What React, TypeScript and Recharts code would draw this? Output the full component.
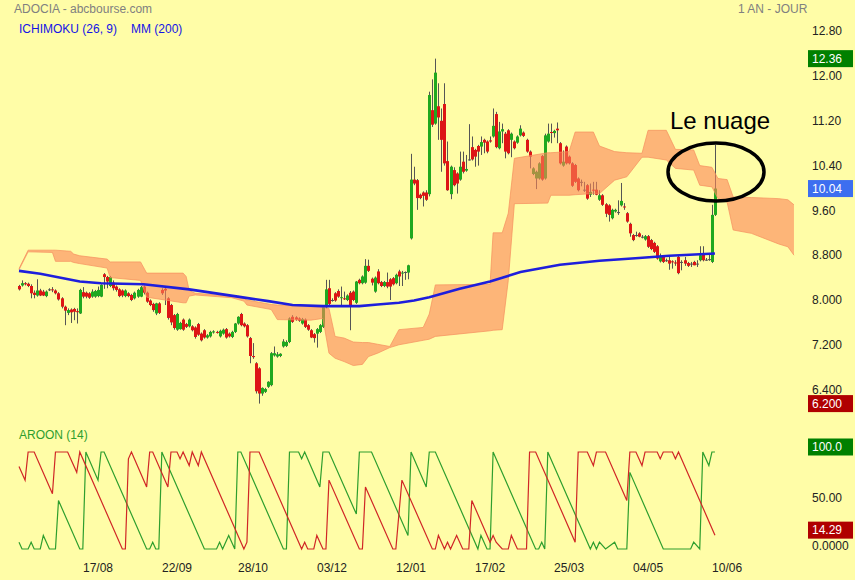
import React from 'react'
import { Area, Bar, ComposedChart, Line, XAxis, YAxis } from 'recharts'

const BG = '#FFFDA7'
const FONT = '"Liberation Sans", Arial, sans-serif'
const GREEN = '#1FA81F'
const RED = '#DD1515'
const WICK = '#555555'

// ADOCIA daily candles [open, high, low, close]
const candles: number[][] = [
  [8.30, 8.32, 8.22, 8.24], [8.31, 8.40, 8.29, 8.35], [8.35, 8.37, 8.31, 8.33], [8.34, 8.36, 8.28, 8.30], [8.30, 8.33, 8.08, 8.17],
  [8.18, 8.22, 8.08, 8.14], [8.13, 8.42, 8.11, 8.22], [8.22, 8.25, 8.12, 8.13], [8.20, 8.23, 8.12, 8.13], [8.12, 8.22, 8.10, 8.20],
  [8.24, 8.26, 8.21, 8.24], [8.24, 8.28, 8.19, 8.23], [8.22, 8.24, 8.15, 8.17], [8.17, 8.19, 8.04, 8.06], [8.08, 8.10, 7.90, 7.93],
  [7.93, 7.95, 7.60, 7.86], [7.82, 7.90, 7.78, 7.87], [7.88, 7.90, 7.64, 7.83], [7.89, 7.91, 7.69, 7.84], [7.85, 7.90, 7.63, 7.84],
  [7.81, 8.25, 7.80, 8.23], [8.19, 8.28, 8.08, 8.11], [8.18, 8.20, 8.08, 8.11], [8.17, 8.19, 8.07, 8.09], [8.11, 8.24, 8.09, 8.20],
  [8.11, 8.23, 8.09, 8.21], [8.12, 8.29, 8.10, 8.23], [8.11, 8.33, 8.10, 8.32], [8.51, 8.53, 8.25, 8.46], [8.46, 8.48, 8.26, 8.38],
  [8.30, 8.48, 8.28, 8.46], [8.36, 8.40, 8.22, 8.26], [8.29, 8.31, 8.20, 8.23], [8.24, 8.26, 8.10, 8.12], [8.22, 8.24, 8.10, 8.13],
  [8.12, 8.24, 8.10, 8.22], [8.17, 8.19, 8.10, 8.12], [8.14, 8.16, 8.03, 8.05], [8.08, 8.20, 8.06, 8.18], [8.11, 8.25, 8.09, 8.23],
  [8.11, 8.30, 8.10, 8.28], [8.29, 8.31, 8.15, 8.18], [8.18, 8.20, 8.00, 8.02], [8.04, 8.06, 7.94, 7.96], [7.98, 8.00, 7.84, 7.87],
  [7.81, 8.00, 7.78, 7.99], [7.99, 8.01, 7.80, 7.82], [8.23, 8.26, 8.14, 8.17], [8.25, 8.27, 7.96, 8.22], [8.08, 8.10, 7.70, 7.73],
  [7.96, 7.98, 7.60, 7.65], [7.78, 7.80, 7.52, 7.55], [7.52, 7.82, 7.50, 7.80], [7.53, 7.66, 7.52, 7.64], [7.70, 7.72, 7.50, 7.52],
  [7.62, 7.64, 7.55, 7.57], [7.58, 7.72, 7.56, 7.70], [7.58, 7.60, 7.49, 7.51], [7.56, 7.58, 7.36, 7.39], [7.62, 7.64, 7.41, 7.43],
  [7.45, 7.47, 7.31, 7.33], [7.51, 7.53, 7.36, 7.38], [7.38, 7.44, 7.36, 7.42], [7.40, 7.50, 7.38, 7.48], [7.47, 7.51, 7.45, 7.49],
  [7.48, 7.50, 7.45, 7.47], [7.40, 7.52, 7.38, 7.50], [7.45, 7.54, 7.43, 7.52], [7.53, 7.55, 7.36, 7.38], [7.45, 7.47, 7.38, 7.40],
  [7.39, 7.50, 7.37, 7.48], [7.48, 7.64, 7.46, 7.63], [7.63, 7.76, 7.61, 7.75], [7.80, 7.82, 7.58, 7.60], [7.63, 7.65, 7.56, 7.58],
  [7.60, 7.62, 7.38, 7.40], [7.37, 7.39, 6.92, 7.05], [7.05, 7.28, 7.00, 7.03], [6.92, 6.94, 6.38, 6.42], [6.83, 6.85, 6.20, 6.38],
  [6.38, 6.49, 6.34, 6.48], [6.41, 6.48, 6.39, 6.46], [6.50, 6.60, 6.48, 6.59], [6.53, 7.12, 6.51, 7.10], [7.06, 7.22, 7.04, 7.10],
  [7.04, 7.12, 7.02, 7.08], [7.05, 7.10, 7.03, 7.09], [7.22, 7.35, 7.20, 7.31], [7.23, 7.33, 7.21, 7.30], [7.30, 7.74, 7.28, 7.72],
  [7.75, 7.78, 7.64, 7.66], [7.74, 7.76, 7.68, 7.70], [7.72, 7.74, 7.66, 7.68], [7.63, 7.73, 7.61, 7.71], [7.70, 7.72, 7.55, 7.57],
  [7.60, 7.62, 7.50, 7.52], [7.51, 7.53, 7.37, 7.38], [7.44, 7.46, 7.29, 7.37], [7.45, 7.55, 7.20, 7.53], [7.48, 7.62, 7.46, 7.60],
  [7.57, 7.94, 7.55, 7.92], [7.92, 8.41, 7.90, 8.24], [8.26, 8.41, 7.96, 7.98], [8.05, 8.08, 8.02, 8.05], [8.17, 8.19, 8.02, 8.04],
  [8.21, 8.24, 8.09, 8.11], [8.09, 8.29, 7.96, 8.10], [8.08, 8.20, 8.05, 8.07], [8.05, 8.15, 8.03, 8.13], [8.18, 8.21, 7.51, 7.96],
  [8.20, 8.22, 8.03, 8.05], [8.00, 8.39, 7.98, 8.38], [8.41, 8.43, 8.33, 8.35], [8.35, 8.49, 8.33, 8.47], [8.36, 8.78, 8.34, 8.66],
  [8.66, 8.77, 8.55, 8.57], [8.43, 8.45, 8.31, 8.36], [8.20, 8.47, 8.18, 8.45], [8.56, 8.60, 8.33, 8.35], [8.37, 8.39, 8.28, 8.30],
  [8.30, 8.39, 8.28, 8.37], [8.37, 8.54, 8.26, 8.29], [8.42, 8.44, 8.05, 8.29], [8.44, 8.46, 8.31, 8.33], [8.35, 8.52, 8.33, 8.50],
  [8.56, 8.59, 8.30, 8.47], [8.53, 8.57, 8.30, 8.54], [8.55, 8.56, 8.41, 8.55], [8.54, 8.68, 8.42, 8.67], [9.15, 10.66, 9.13, 10.20],
  [10.20, 10.43, 10.10, 10.13], [10.19, 10.21, 9.66, 9.87], [9.93, 9.95, 9.85, 9.87], [9.97, 9.99, 9.72, 9.91], [9.97, 10.01, 9.82, 9.84],
  [9.94, 11.77, 9.90, 11.71], [11.44, 11.99, 11.14, 11.18], [11.20, 12.36, 11.18, 12.11], [11.51, 11.92, 10.91, 11.31], [11.25, 11.47, 10.34, 10.91],
  [11.55, 11.92, 10.45, 10.49], [10.53, 10.88, 10.00, 10.01], [9.94, 10.45, 9.85, 10.43], [10.37, 10.42, 10.08, 10.10], [10.31, 10.33, 9.95, 10.13],
  [10.20, 10.70, 10.18, 10.43], [10.52, 10.70, 10.31, 10.34], [10.36, 10.64, 10.34, 10.39], [10.56, 11.19, 10.54, 10.56], [10.78, 10.97, 10.54, 10.56],
  [10.73, 10.75, 10.43, 10.61], [10.80, 10.82, 10.45, 10.70], [10.79, 10.97, 10.64, 10.87], [10.91, 10.93, 10.67, 10.86], [10.88, 10.90, 10.67, 10.70],
  [10.90, 10.97, 10.86, 10.88], [10.97, 11.47, 10.95, 11.16], [11.37, 11.41, 10.76, 10.78], [10.76, 11.23, 10.74, 11.06], [11.06, 11.20, 10.85, 11.10],
  [11.02, 11.05, 10.58, 10.70], [11.08, 11.10, 10.65, 10.67], [10.91, 11.04, 10.60, 11.02], [10.88, 10.90, 10.74, 10.76], [10.86, 10.99, 10.84, 10.97],
  [10.99, 11.17, 10.97, 11.11], [11.04, 11.06, 10.96, 10.98], [10.91, 10.93, 10.68, 10.70], [10.70, 10.72, 10.40, 10.61], [10.30, 10.42, 10.28, 10.40],
  [10.22, 10.36, 10.03, 10.34], [10.22, 10.51, 10.20, 10.49], [10.62, 10.64, 10.18, 10.20], [10.22, 11.02, 10.20, 10.99], [10.88, 11.20, 10.86, 11.02],
  [11.05, 11.20, 10.85, 11.04], [11.03, 11.09, 10.95, 11.07], [11.11, 11.22, 10.85, 11.08], [10.85, 10.87, 10.47, 10.49], [10.45, 10.72, 10.43, 10.52],
  [10.79, 10.81, 10.47, 10.49], [10.61, 10.63, 10.47, 10.49], [10.49, 10.51, 10.07, 10.09], [10.46, 10.48, 10.14, 10.16], [10.22, 10.24, 9.99, 10.01],
  [10.16, 10.20, 10.08, 10.16], [10.02, 10.16, 9.98, 10.02], [10.10, 10.12, 9.84, 9.86], [9.93, 10.13, 9.89, 9.98], [10.02, 10.16, 9.93, 10.01],
  [10.02, 10.16, 9.92, 9.93], [9.84, 10.01, 9.82, 9.92], [9.92, 9.94, 9.73, 9.75], [9.76, 9.78, 9.53, 9.59], [9.74, 9.76, 9.45, 9.57],
  [9.51, 9.68, 9.49, 9.66], [9.63, 9.68, 9.61, 9.66], [9.62, 9.83, 9.57, 9.62], [9.74, 10.14, 9.72, 9.82], [9.72, 9.78, 9.66, 9.71],
  [9.60, 9.62, 9.43, 9.45], [9.41, 9.43, 9.18, 9.24], [9.21, 9.23, 9.10, 9.12], [9.21, 9.27, 9.18, 9.21], [9.24, 9.26, 9.17, 9.18],
  [9.18, 9.21, 9.15, 9.18], [9.13, 9.21, 9.11, 9.19], [9.19, 9.21, 8.98, 9.00], [9.12, 9.14, 8.94, 8.96], [9.07, 9.09, 8.89, 8.91],
  [9.01, 9.03, 8.77, 8.79], [8.74, 8.88, 8.72, 8.84], [8.82, 8.84, 8.71, 8.73], [8.76, 8.79, 8.73, 8.76], [8.76, 8.82, 8.59, 8.70],
  [8.74, 8.76, 8.61, 8.73], [8.72, 8.76, 8.66, 8.71], [8.82, 8.85, 8.51, 8.53], [8.73, 8.76, 8.58, 8.73], [8.76, 8.82, 8.66, 8.70],
  [8.71, 8.73, 8.64, 8.66], [8.70, 8.73, 8.64, 8.70], [8.73, 8.75, 8.67, 8.67], [8.70, 8.76, 8.64, 8.70], [8.76, 9.01, 8.74, 8.85],
  [8.88, 9.01, 8.74, 8.76], [8.77, 8.80, 8.75, 8.77], [8.78, 8.89, 8.75, 8.78], [8.73, 9.75, 8.71, 9.57], [9.57, 10.82, 9.55, 10.04],
]

// Ichimoku cloud, shifted 26 sessions ahead: [session, upper edge, lower edge]
const cloud: number[][] = [
  [0, 8.61, 8.59], [3, 8.94, 8.91], [11, 8.94, 8.90], [12, 8.94, 8.74], [17, 8.92, 8.74], [18, 8.87, 8.72],
  [20, 8.84, 8.70], [29, 8.78, 8.62], [30, 8.73, 8.45], [40, 8.73, 8.40], [42, 8.53, 8.10], [54, 8.53, 8.00],
  [55, 8.47, 8.00], [56, 8.22, 8.12], [58, 8.17, 8.14], [70, 8.12, 8.09], [74, 8.08, 8.03], [75, 8.05, 7.96],
  [83, 7.97, 7.88], [85, 7.96, 7.70], [96, 7.93, 7.69], [100, 7.92, 7.72], [102, 7.90, 7.10], [104, 7.40, 7.01],
  [107, 7.37, 6.95], [110, 7.30, 6.88], [113, 7.29, 6.90], [115, 7.29, 7.04], [118, 7.26, 7.10], [122, 7.22, 7.20],
  [125, 7.52, 7.25], [133, 7.56, 7.33], [135, 7.80, 7.35], [137, 8.32, 7.40], [155, 8.33, 7.50], [156, 9.25, 7.51],
  [159, 9.25, 7.52], [161, 9.60, 8.40], [163, 10.58, 9.77], [174, 10.68, 9.78], [175, 10.68, 9.92], [181, 10.70, 9.92],
  [183, 11.05, 9.93], [189, 11.05, 9.95], [191, 10.80, 9.95], [196, 10.70, 10.19], [200, 10.68, 10.25], [205, 10.67, 10.60],
  [207, 11.08, 10.60], [213, 11.08, 10.55], [216, 10.74, 10.40], [222, 10.73, 10.37], [224, 10.45, 10.10], [228, 10.42, 10.07],
  [230, 10.22, 9.86], [233, 10.20, 9.80], [235, 9.89, 9.30], [241, 9.88, 9.24], [250, 9.86, 9.05], [253, 9.84, 9.00],
  [255, 9.75, 8.85],
]

// moyenne mobile 200 [session, value]
const mm200: number[][] = [
  [0, 8.57], [7, 8.52], [20, 8.38], [27, 8.35], [41, 8.33], [56, 8.24], [72, 8.11], [82, 8.03], [90, 7.96],
  [100, 7.94], [112, 7.94], [118, 7.97], [125, 8.00], [130, 8.04], [135, 8.10], [145, 8.25], [155, 8.38],
  [165, 8.55], [178, 8.68], [191, 8.75], [204, 8.80], [214, 8.84], [229, 8.88],
]

// Aroon (14) [session, value]
const aroonUp: number[][] = [
  [0, 7], [1, 0], [3, 0], [4, 7], [5, 0], [7, 0], [8, 14], [10, 0], [12, 0], [13, 50], [20, 0], [21, 0],
  [22, 100], [26, 71], [27, 100], [28, 100], [42, 0], [43, 0], [44, 7], [45, 0], [46, 0], [47, 100], [61, 0],
  [65, 0], [66, 7], [67, 0], [69, 14], [71, 0], [72, 100], [73, 100], [87, 0], [88, 0], [89, 100], [92, 100],
  [93, 93], [94, 100], [99, 64], [100, 100], [102, 100], [111, 36], [112, 100], [116, 100], [128, 14], [129, 100],
  [134, 64], [135, 100], [137, 100], [151, 0], [152, 14], [154, 0], [155, 0], [156, 100], [170, 0], [171, 0],
  [172, 7], [173, 0], [174, 100], [188, 0], [189, 7], [190, 0], [191, 7], [193, 0], [196, 7], [197, 0], [200, 0],
  [201, 79], [212, 0], [221, 0], [222, 7], [224, 0], [225, 100], [227, 86], [228, 100], [229, 100],
]
const aroonDown: number[][] = [
  [0, 85], [2, 71], [3, 100], [5, 100], [11, 57], [12, 100], [16, 100], [19, 79], [20, 100], [34, 0], [35, 0],
  [36, 93], [37, 100], [42, 64], [43, 100], [44, 100], [49, 64], [50, 100], [52, 100], [53, 93], [54, 100],
  [56, 86], [57, 100], [59, 86], [60, 100], [74, 0], [75, 7], [76, 100], [79, 100], [93, 0], [94, 7], [95, 0],
  [97, 0], [98, 14], [100, 0], [101, 0], [102, 71], [112, 0], [113, 0], [114, 64], [123, 0], [124, 0], [126, 71],
  [136, 0], [137, 0], [138, 14], [140, 0], [141, 7], [142, 0], [144, 14], [146, 0], [148, 0], [149, 50], [155, 7],
  [156, 14], [157, 7], [159, 0], [161, 0], [162, 14], [164, 0], [167, 0], [168, 100], [170, 100], [183, 7],
  [184, 100], [187, 100], [189, 86], [190, 100], [193, 100], [200, 50], [201, 100], [203, 100], [205, 86],
  [206, 100], [210, 100], [211, 93], [212, 100], [215, 100], [216, 93], [217, 100], [229, 14.29],
]

const dateTicks = [26, 52, 77, 103, 129, 155, 181, 207, 233]
const dateLabels = ['17/08', '22/09', '28/10', '03/12', '12/01', '17/02', '25/03', '04/05', '10/06']

const priceTicks = [6.4, 7.2, 8.0, 8.8, 9.6, 10.4, 11.2, 12.0, 12.8]
const priceTickLabels = ['6.400', '7.200', '8.000', '8.800', '9.60', '10.40', '11.20', '12.00', '12.80']
const priceBadges = [
  { value: 12.36, label: '12.36', color: '#008000' },
  { value: 10.04, label: '10.04', color: '#3D6EF0' },
  { value: 6.2, label: '6.200', color: '#B00000' },
]

const aroonTicks = [0, 50]
const aroonTickLabels = ['0.0000', '50.00']
const aroonBadges = [
  { value: 100, label: '100.0', color: '#008000' },
  { value: 14.29, label: '14.29', color: '#B00000' },
]

const SESSIONS: [number, number] = [0, 256]
const PRICE_DOMAIN: [number, number] = [6.05, 13.05]
const AROON_DOMAIN: [number, number] = [-4.12, 104.12]

const candleRows = candles.map(([o, h, l, c], i) => ({ i, o, h, l, c, range: [l, h] }))
const cloudRows = cloud.map(([i, top, bottom]) => ({ i, band: [bottom, top] }))
const mmRows = mm200.map(([i, v]) => ({ i, v }))
const upRows = aroonUp.map(([i, v]) => ({ i, v }))
const downRows = aroonDown.map(([i, v]) => ({ i, v }))

const Candle = (props: any) => {
  const { x, y, width, height, payload } = props
  if (!payload || x == null) return null
  const { o, h, l, c } = payload
  const top = Math.min(y, y + height)
  const span = Math.abs(height)
  const k = h > l ? span / (h - l) : 0
  const yO = top + (h - o) * k
  const yC = top + (h - c) * k
  const cx = Math.round(x + width / 2) + 0.5
  const bodyTop = Math.min(yO, yC)
  const bodyH = Math.max(1, Math.abs(yC - yO))
  const fill = c > o ? GREEN : c < o ? RED : WICK
  return (
    <g>
      <line x1={cx} x2={cx} y1={top} y2={top + span} stroke={WICK} strokeWidth={1} />
      <rect x={cx - 1.5} y={bodyTop} width={3} height={bodyH} fill={fill} />
    </g>
  )
}

const makeTick = (ticks: number[], labels: string[], badges: any[], badgeShift: number, labelShift: number) => {
  const Tick = (props: any) => {
    const { x, y, payload } = props
    const badge = badges.find((b) => b.value === payload.value)
    if (badge) {
      return (
        <g>
          <rect x={x - 4} y={y + badgeShift - 8.5} width={45} height={17} fill={badge.color} />
          <text x={x} y={y + badgeShift} dy="0.36em" fill="#fff" fontSize={12} fontFamily={FONT}>
            {badge.label}
          </text>
        </g>
      )
    }
    const idx = ticks.indexOf(payload.value)
    return (
      <text x={x} y={y + labelShift} dy="0.36em" fill="#222" fontSize={12} fontFamily={FONT}>
        {labels[idx]}
      </text>
    )
  }
  return Tick
}

const PriceTick = makeTick(priceTicks, priceTickLabels, priceBadges, 0, -3)
const AroonTick = makeTick(aroonTicks, aroonTickLabels, aroonBadges, -5, -3)

const DateTick = (props: any) => {
  const { x, y, payload } = props
  const idx = dateTicks.indexOf(payload.value)
  return (
    <text x={x} y={y} dy="0.71em" textAnchor="middle" fill="#222" fontSize={12} fontFamily={FONT}>
      {dateLabels[idx]}
    </text>
  )
}

export default function App() {
  return (
    <div style={{ position: 'absolute', left: 0, top: 0, width: 855, height: 580, background: BG, overflow: 'hidden' }}>
      {/* candles + price axis */}
      <div style={{ position: 'absolute', left: 0, top: 0 }}>
        <ComposedChart width={855} height={420} data={candleRows} margin={{ top: 20, right: 0, bottom: 8, left: 19 }}>
          <XAxis dataKey="i" type="number" domain={SESSIONS} hide />
          <YAxis
            orientation="right"
            type="number"
            domain={PRICE_DOMAIN}
            ticks={[...priceTicks, ...priceBadges.map((b) => b.value)]}
            interval={0}
            width={58}
            axisLine={false}
            tickLine={false}
            tickSize={6}
            tickMargin={9}
            tick={<PriceTick />}
          />
          <Bar dataKey="range" barSize={3} shape={<Candle />} isAnimationActive={false} />
        </ComposedChart>
      </div>
      {/* ichimoku cloud + MM200 on top */}
      <div style={{ position: 'absolute', left: 0, top: 0 }}>
        <ComposedChart width={855} height={420} margin={{ top: 20, right: 58, bottom: 8, left: 19 }}>
          <XAxis dataKey="i" type="number" domain={SESSIONS} hide />
          <YAxis type="number" domain={PRICE_DOMAIN} hide />
          <Area
            data={cloudRows}
            dataKey="band"
            type="linear"
            fill="#FC8558"
            fillOpacity={0.6}
            stroke="#F58F5E"
            strokeOpacity={0.7}
            strokeWidth={1}
            dot={false}
            activeDot={false}
            isAnimationActive={false}
          />
          <Line
            data={mmRows}
            dataKey="v"
            type="linear"
            stroke="#1E1EDC"
            strokeWidth={2.6}
            dot={false}
            activeDot={false}
            isAnimationActive={false}
          />
        </ComposedChart>
      </div>
      {/* aroon panel */}
      <div style={{ position: 'absolute', left: 0, top: 430 }}>
        <ComposedChart width={855} height={150} margin={{ top: 18, right: 0, bottom: 0, left: 19 }}>
          <XAxis
            dataKey="i"
            type="number"
            domain={SESSIONS}
            ticks={dateTicks}
            interval={0}
            height={27}
            axisLine={false}
            tickLine={false}
            tickMargin={4}
            tick={<DateTick />}
          />
          <YAxis
            orientation="right"
            type="number"
            domain={AROON_DOMAIN}
            ticks={[...aroonTicks, ...aroonBadges.map((b) => b.value)]}
            interval={0}
            width={58}
            axisLine={false}
            tickLine={false}
            tickSize={6}
            tickMargin={9}
            tick={<AroonTick />}
          />
          <Line data={upRows} dataKey="v" type="linear" stroke="#2E9E2E" strokeWidth={1.2} dot={false} activeDot={false} isAnimationActive={false} />
          <Line data={downRows} dataKey="v" type="linear" stroke="#D02626" strokeWidth={1.2} dot={false} activeDot={false} isAnimationActive={false} />
        </ComposedChart>
      </div>
      {/* titles and annotation */}
      <svg width={855} height={580} style={{ position: 'absolute', left: 0, top: 0, pointerEvents: 'none' }}>
        <text x={14} y={13} fontSize={12} fontFamily={FONT} fill="#808080">ADOCIA - abcbourse.com</text>
        <text x={738} y={13} fontSize={12} fontFamily={FONT} fill="#808080">1 AN - JOUR</text>
        <text x={19} y={33} fontSize={12} fontFamily={FONT} fill="#1414E6">ICHIMOKU (26, 9)</text>
        <text x={131} y={33} fontSize={12} fontFamily={FONT} fill="#1414E6">MM (200)</text>
        <text x={19} y={439} fontSize={12} fontFamily={FONT} fill="#2E9E2E">AROON (14)</text>
        <text x={670} y={129} fontSize={24} fontFamily={FONT} fill="#000">Le nuage</text>
        <ellipse cx={716} cy={172} rx={48} ry={29} fill="none" stroke="#000" strokeWidth={3.5} />
      </svg>
    </div>
  )
}
